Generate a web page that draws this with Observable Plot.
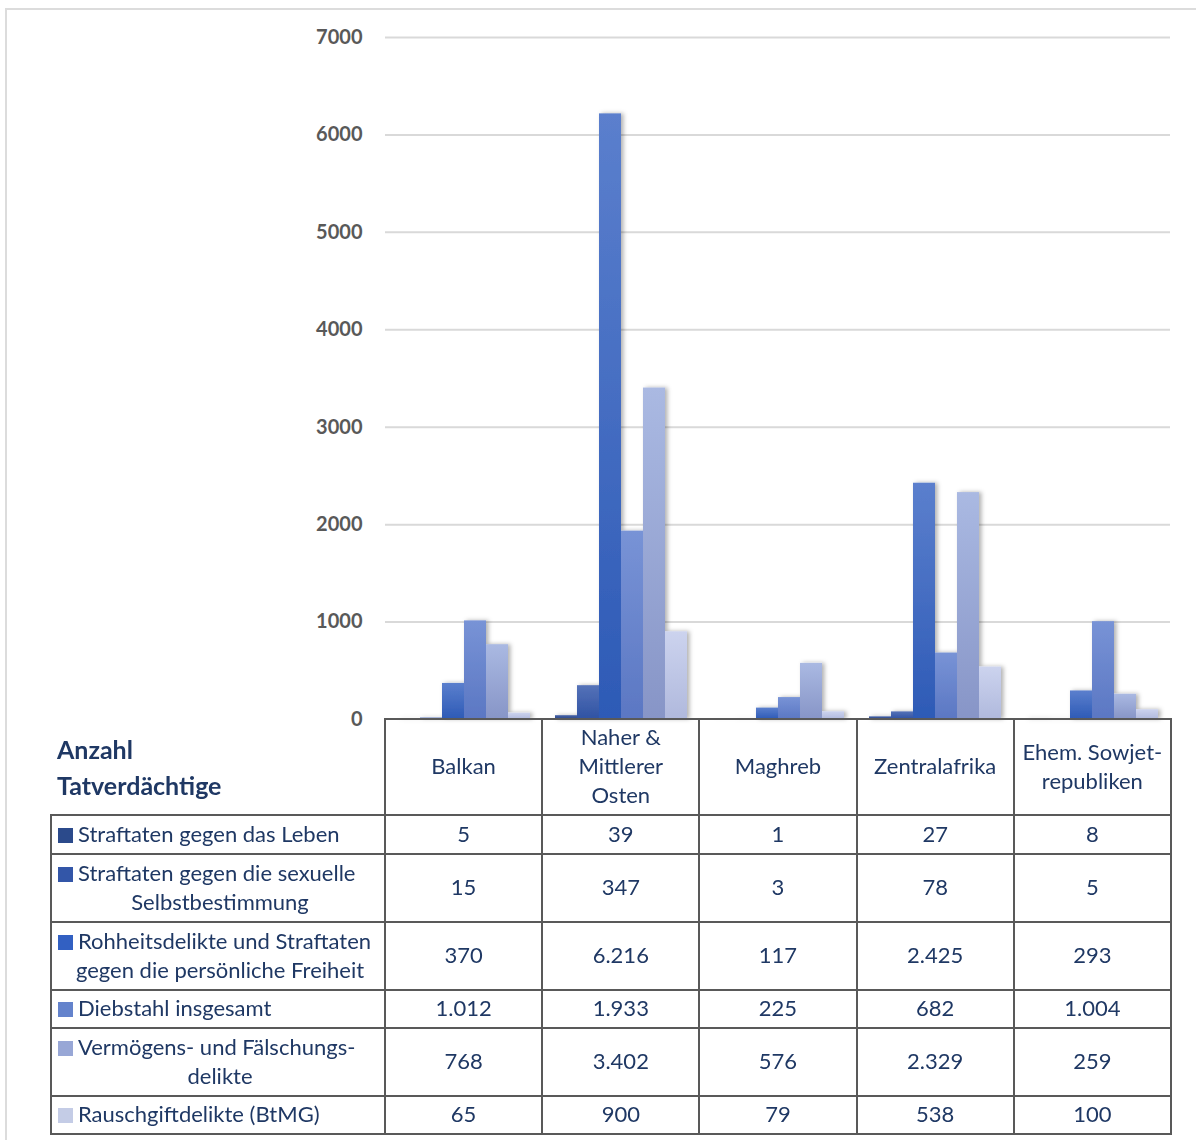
<!DOCTYPE html>
<html>
<head>
<meta charset="utf-8">
<script src="https://cdn.jsdelivr.net/npm/d3@7"></script>
<script src="https://cdn.jsdelivr.net/npm/@observablehq/plot@0.6"></script>
<style>
  html, body { margin: 0; padding: 0; background: #fff; }
  #wrap { position: relative; width: 1196px; height: 1140px; overflow: hidden; font-family: Lato, "Noto Sans", sans-serif; }
  #frame { position: absolute; left: 5px; top: 8px; width: 1300px; height: 1300px; border-left: 2px solid #dcdcdc; border-top: 2px solid #dcdcdc; box-sizing: border-box; }
  #chart { position: absolute; left: 0; top: 0; }
  #tbl { position: absolute; left: 50px; top: 718px; border-collapse: collapse; table-layout: fixed; color: #1f3864; font-size: 22px; }
  #tbl td { border: 2px solid #595959; text-align: center; vertical-align: middle; padding: 0 0 3px 0; line-height: 29px; white-space: pre-line; }
  #tbl td.corner { border-top: none; border-left: none; text-align: left; font-weight: bold; font-size: 25px; line-height: 36px; padding: 0 0 0 6px; color: #1f3864; }
  #tbl td.lab { text-align: center; padding-left: 6px; padding-right: 2px; }
  .first { display: block; text-align: left; white-space: nowrap; }
  .sw { display: inline-block; width: 15px; height: 15px; margin-right: 5px; vertical-align: -1px; }
</style>
</head>
<body>
<div id="wrap">
  <div id="frame"></div>
  <div id="chart"></div>
  <table id="tbl"></table>
</div>
<script>
// ---- data ----
const regions = ["Balkan", "Naher & Mittlerer Osten", "Maghreb", "Zentralafrika", "Ehem. Sowjetrepubliken"];
const regionLabels = ["Balkan", "Naher &\nMittlerer\nOsten", "Maghreb", "Zentralafrika", "Ehem. Sowjet-\nrepubliken"];
const series = [
  "Straftaten gegen das Leben",
  "Straftaten gegen die sexuelle Selbstbestimmung",
  "Rohheitsdelikte und Straftaten gegen die persönliche Freiheit",
  "Diebstahl insgesamt",
  "Vermögens- und Fälschungsdelikte",
  "Rauschgiftdelikte (BtMG)"
];
const seriesLabels = [
  ["Straftaten gegen das Leben"],
  ["Straftaten gegen die sexuelle", "Selbstbestimmung"],
  ["Rohheitsdelikte und Straftaten", "gegen die persönliche Freiheit"],
  ["Diebstahl insgesamt"],
  ["Vermögens- und Fälschungs-", "delikte"],
  ["Rauschgiftdelikte (BtMG)"]
];
const tableTitle = "Anzahl\nTatverdächtige";
const leben     = [5, 39, 1, 27, 8];
const sexuell   = [15, 347, 3, 78, 5];
const rohheit   = [370, 6216, 117, 2425, 293];
const diebstahl = [1012, 1933, 225, 682, 1004];
const vermoegen = [768, 3402, 576, 2329, 259];
const rausch    = [65, 900, 79, 538, 100];
const seriesValues = [leben, sexuell, rohheit, diebstahl, vermoegen, rausch];
const yTicks = [0, 1000, 2000, 3000, 4000, 5000, 6000, 7000];

// ---- styling ----
const gradTop    = ["#4562a6", "#5572b8", "#5b7fcd", "#7893d6", "#aab9e2", "#ccd3ee"];
const gradBottom = ["#2a478a", "#2f52a3", "#2d5ab6", "#5b77c3", "#8795c7", "#b0b9dd"];
const swatch     = ["#2b4a8b", "#3356a8", "#3260c2", "#6483cc", "#98a7d6", "#c4cce6"];

const rows = [];
series.forEach((s, si) => regions.forEach((r, ri) => rows.push({region: r, series: s, value: seriesValues[si][ri]})));

const svg = Plot.plot({
  width: 1196,
  height: 740,
  marginLeft: 384,
  marginRight: 26,
  marginTop: 37,
  marginBottom: 21,
  style: {fontFamily: "Lato, 'Noto Sans', sans-serif", fontSize: "20px", fontWeight: "bold", color: "#595959", background: "transparent"},
  fx: {domain: regions, padding: 0, axis: null},
  x: {domain: series, paddingInner: 0, paddingOuter: 0.5, axis: null},
  y: {domain: [0, 7000], ticks: yTicks, tickSize: 0, tickPadding: 23, tickFormat: d => String(d), label: null},
  color: {domain: series, range: series.map((_, i) => `url(#grad${i})`)},
  marks: [
    Plot.ruleY(yTicks.filter(d => d > 0), {stroke: "#d9d9d9", strokeWidth: 2}),
    Plot.barY(rows, {fx: "region", x: "series", y: "value", fill: "series"})
  ]
});

// gradients + shadow
const ns = "http://www.w3.org/2000/svg";
const defs = document.createElementNS(ns, "defs");
gradTop.forEach((t, i) => {
  const g = document.createElementNS(ns, "linearGradient");
  g.setAttribute("id", `grad${i}`);
  g.setAttribute("x1", "0"); g.setAttribute("y1", "0"); g.setAttribute("x2", "0"); g.setAttribute("y2", "1");
  [[0, t], [1, gradBottom[i]]].forEach(([o, c]) => {
    const st = document.createElementNS(ns, "stop");
    st.setAttribute("offset", o); st.setAttribute("stop-color", c);
    g.appendChild(st);
  });
  defs.appendChild(g);
});
const f = document.createElementNS(ns, "filter");
f.setAttribute("id", "shadow"); f.setAttribute("x", "-20%"); f.setAttribute("y", "-5%"); f.setAttribute("width", "150%"); f.setAttribute("height", "110%");
const ds = document.createElementNS(ns, "feDropShadow");
ds.setAttribute("dx", "2.5"); ds.setAttribute("dy", "0"); ds.setAttribute("stdDeviation", "2"); ds.setAttribute("flood-color", "#000"); ds.setAttribute("flood-opacity", "0.3");
f.appendChild(ds);
defs.appendChild(f);
svg.insertBefore(defs, svg.firstChild);
svg.querySelectorAll('g[aria-label="bar"]').forEach(g => g.setAttribute("filter", "url(#shadow)"));
document.getElementById("chart").appendChild(svg);

// ---- data table ----
const de = d3.formatLocale({decimal: ",", thousands: ".", grouping: [3], currency: ["", "€"]});
const fmt = de.format(",d");
const tbl = document.getElementById("tbl");
const colW = [334].concat(regions.map(() => 157.2));
const cg = document.createElement("colgroup");
colW.forEach(w => { const c = document.createElement("col"); c.style.width = w + "px"; cg.appendChild(c); });
tbl.appendChild(cg);
tbl.style.width = d3.sum(colW) + "px";

const head = document.createElement("tr");
head.style.height = "96px";
const corner = document.createElement("td");
corner.className = "corner";
corner.textContent = tableTitle;
head.appendChild(corner);
regionLabels.forEach(l => { const td = document.createElement("td"); td.textContent = l; head.appendChild(td); });
tbl.appendChild(head);

const rowH = [39, 68, 68, 38, 68, 38];
series.forEach((s, si) => {
  const tr = document.createElement("tr");
  tr.style.height = rowH[si] + "px";
  const lab = document.createElement("td");
  lab.className = "lab";
  const first = document.createElement("span");
  first.className = "first";
  const sw = document.createElement("span");
  sw.className = "sw";
  sw.style.background = swatch[si];
  first.appendChild(sw);
  first.appendChild(document.createTextNode(seriesLabels[si][0]));
  lab.appendChild(first);
  if (seriesLabels[si][1]) {
    const sec = document.createElement("span");
    sec.style.display = "block";
    sec.textContent = seriesLabels[si][1];
    lab.appendChild(sec);
  }
  tr.appendChild(lab);
  seriesValues[si].forEach(v => { const td = document.createElement("td"); td.textContent = fmt(v); tr.appendChild(td); });
  tbl.appendChild(tr);
});
</script>
</body>
</html>
